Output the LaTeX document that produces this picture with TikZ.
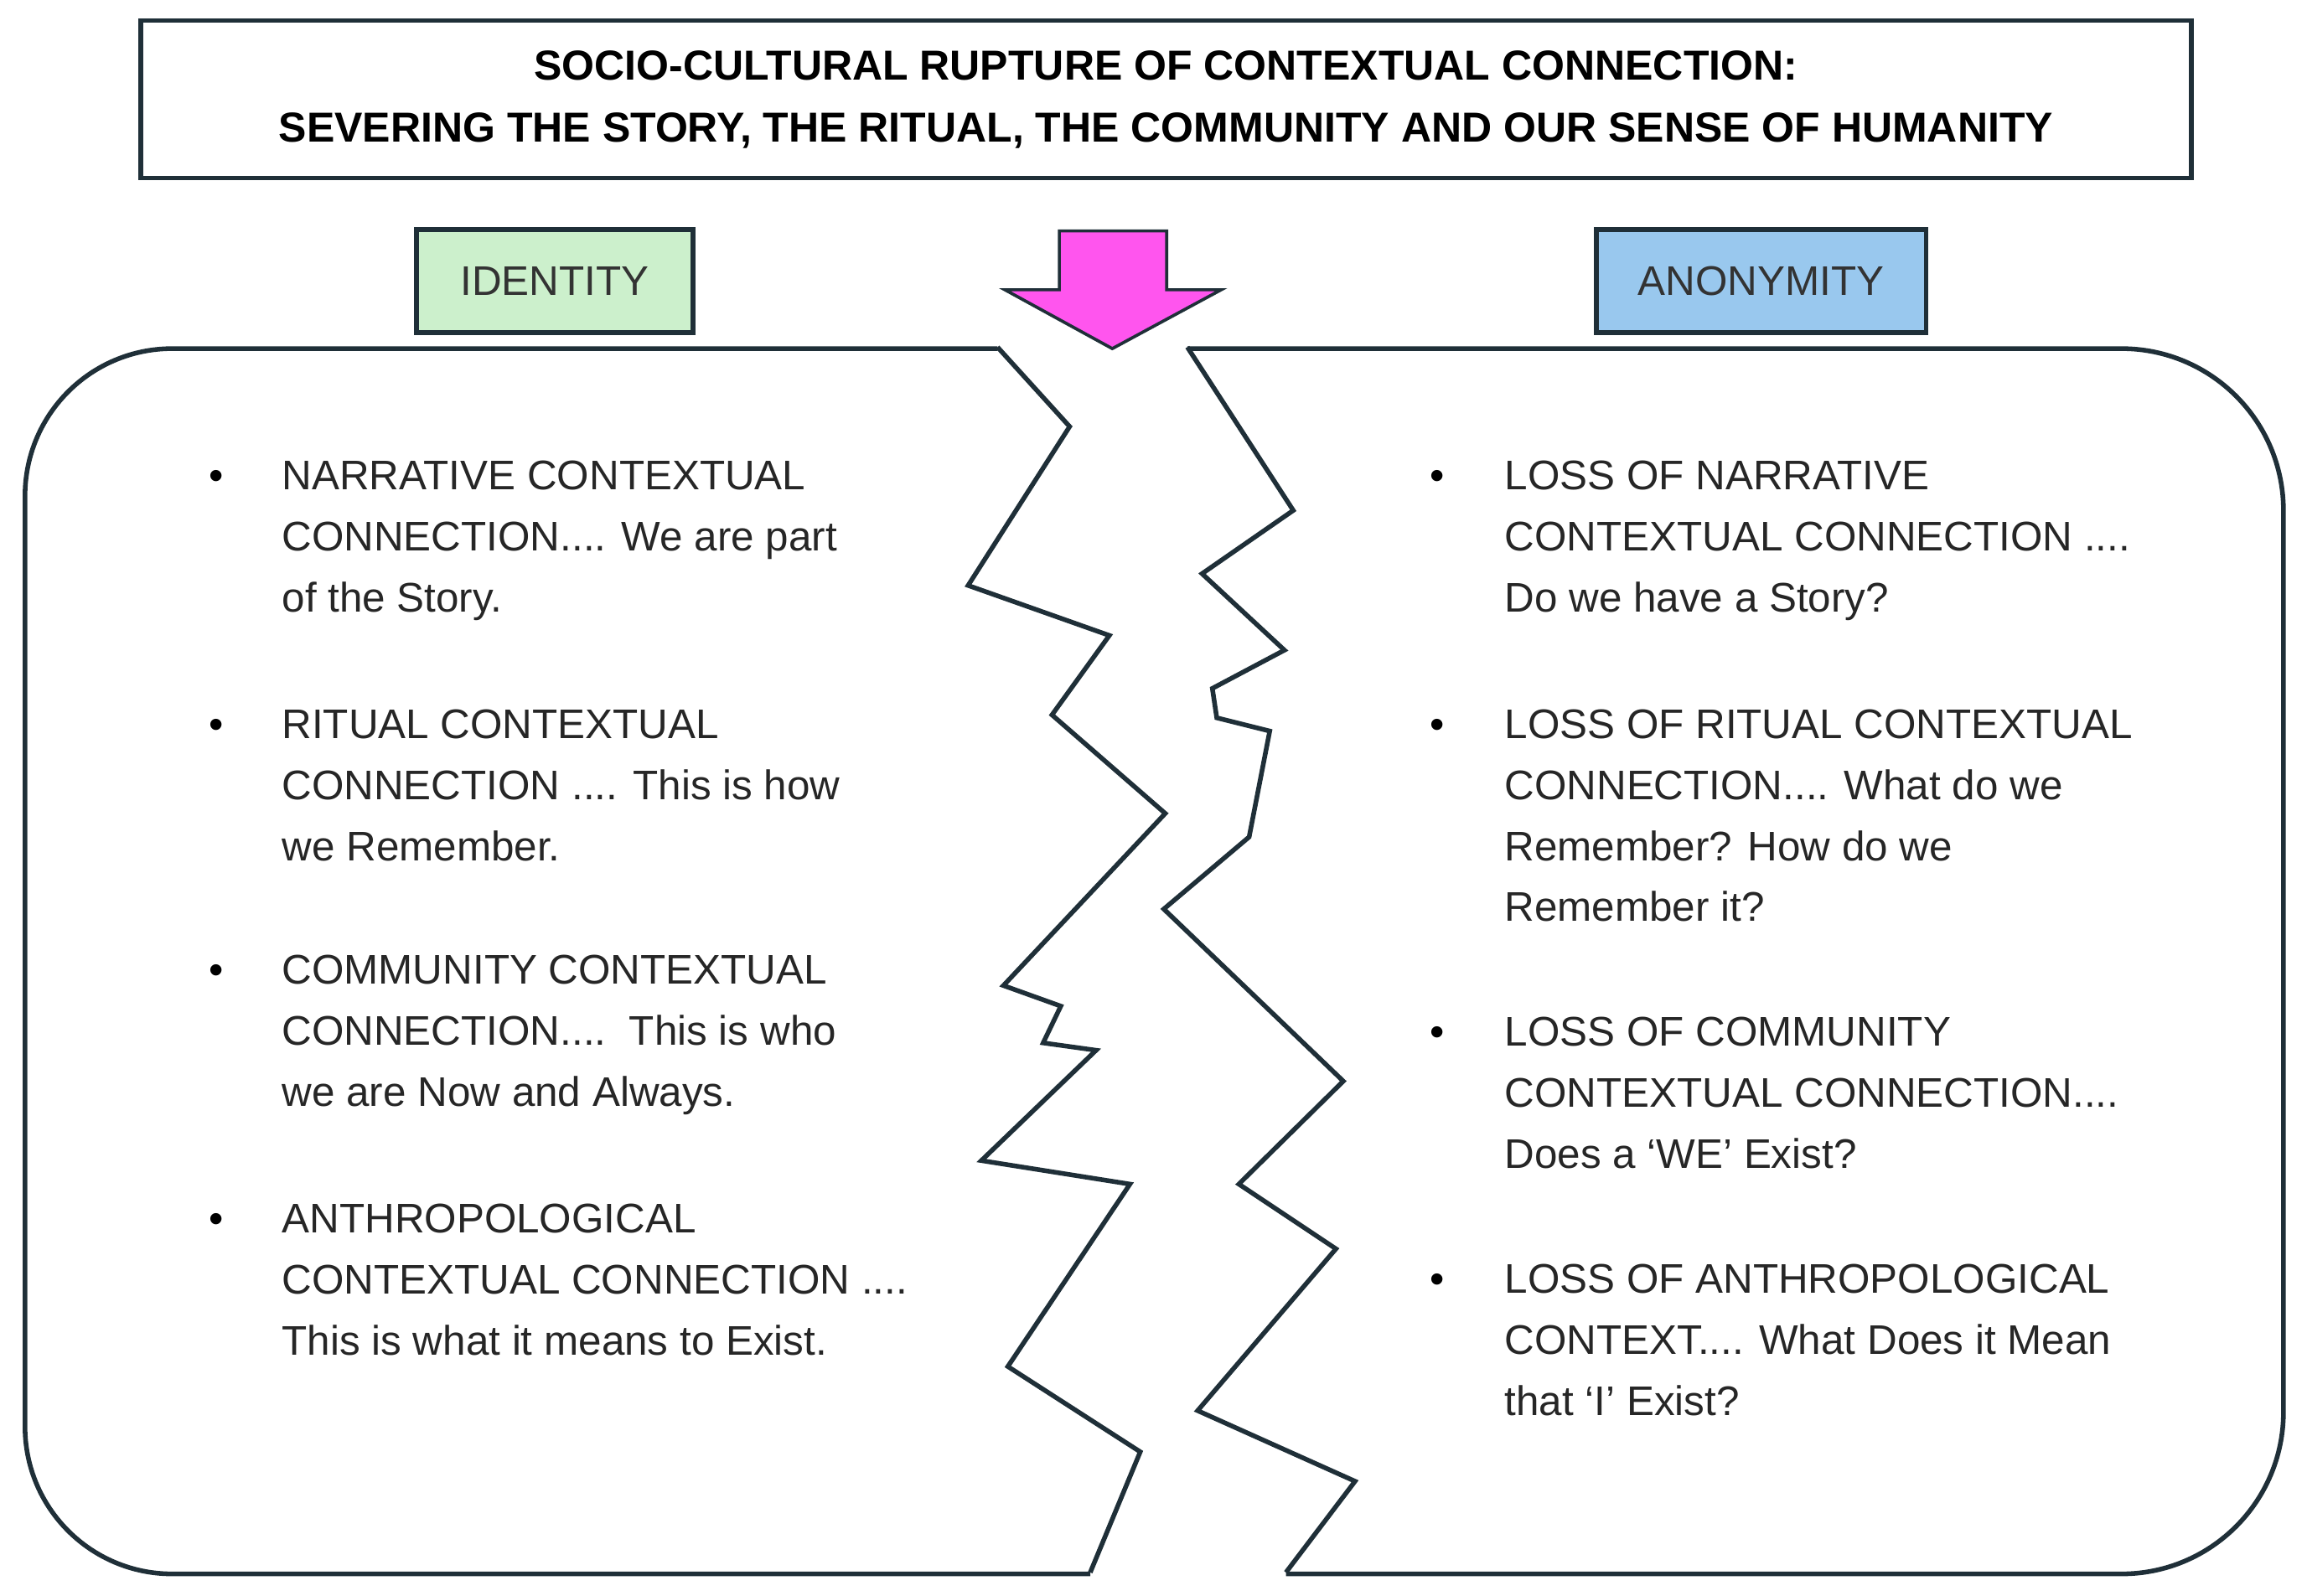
\documentclass[tikz,border=0pt]{standalone}
\usepackage{fontspec}
\setmainfont{Liberation Sans}
\definecolor{idgreen}{HTML}{CCF0CC}
\definecolor{anonblue}{HTML}{99C8EE}
\definecolor{rupture}{HTML}{FF55EE}
\definecolor{edge}{HTML}{1F2F38}
\tikzset{
  item/.style={anchor=base west, align=left, inner sep=0pt, font=\fontsize{8}{11.8}\selectfont, text=black!85},
  dot/.style={anchor=base, inner sep=0pt, font=\fontsize{8}{11.8}\selectfont},
  tag/.style={draw=edge, line width=0.9pt, minimum width=#1, minimum height=0.7cm, font=\fontsize{8}{10}\selectfont, text=black!80},
}
\begin{document}
\begin{tikzpicture}[x=0.01cm,y=-0.01cm]
 \useasboundingbox (0,0) rectangle (1568,1085);

 \node[draw=edge, line width=0.9pt, minimum width=13.93cm, minimum height=1.07cm, align=center,
   font=\bfseries\fontsize{8.1}{12}\selectfont] (title) at (792.5,67.5)
   {SOCIO-CULTURAL RUPTURE OF CONTEXTUAL CONNECTION:\\
    SEVERING THE STORY, THE RITUAL, THE COMMUNITY AND OUR SENSE OF HUMANITY};

 \node[tag=1.88cm, fill=idgreen] (ident) at (377,191) {IDENTITY};
 \node[tag=2.24cm, fill=anonblue] (anon) at (1197,191) {ANONYMITY};

 % the downward arrow
 \filldraw[fill=rupture, draw=edge, line width=0.6pt] (720,157) -- (793,157) -- (793,197) -- (830,197)
   -- (756,237) -- (683,197) -- (720,197) -- cycle;

 % left panel
 \draw[edge, line width=0.9pt, rounded corners=1cm] (678,237) -- (17,237) -- (17,1070) -- (741,1070);
 \draw[edge, line width=0.9pt] (678,236) -- (727,290) -- (658,398) -- (754,432) -- (715,486) -- (792,553)
   -- (682,670) -- (721,684) -- (709,709) -- (745,714) -- (667,789) -- (768,805) -- (685,929)
   -- (775,987) -- (741,1069);

 % right panel
 \draw[edge, line width=0.9pt, rounded corners=1.1cm] (807,237) -- (1552,237) -- (1552,1070) -- (874,1070);
 \draw[edge, line width=0.9pt] (807,236) -- (879,347) -- (817,390) -- (873,442) -- (824,468) -- (827,488)
   -- (863,497) -- (849,569) -- (791,618) -- (913,735) -- (842,805) -- (908,849) -- (814,959)
   -- (921,1007) -- (874,1069);

 % left items (anchored on the last line)
 \foreach \yy in {333,502,669,838} \node[dot] at (147,\yy) {\textbullet};
 \node[item] (l1) at (191,416) {NARRATIVE CONTEXTUAL\\CONNECTION.... We are part\\of the Story.};
 \node[item] (l2) at (191,585) {RITUAL CONTEXTUAL\\CONNECTION .... This is how\\we Remember.};
 \node[item] (l3) at (191,752) {COMMUNITY CONTEXTUAL\\CONNECTION....\ \ This is who\\we are Now and Always.};
 \node[item] (l4) at (191,921) {ANTHROPOLOGICAL\\CONTEXTUAL CONNECTION ....\\This is what it means to Exist.};

 % right items
 \foreach \yy in {333,502,711,879} \node[dot] at (977,\yy) {\textbullet};
 \node[item] (r1) at (1022,416) {LOSS OF NARRATIVE\\CONTEXTUAL CONNECTION ....\\Do we have a Story?};
 \node[item] (r2) at (1022,626.5) {LOSS OF RITUAL CONTEXTUAL\\CONNECTION.... What do we\\Remember? How do we\\Remember it?};
 \node[item] (r3) at (1022,794) {LOSS OF COMMUNITY\\CONTEXTUAL CONNECTION....\\Does a `WE' Exist?};
 \node[item] (r4) at (1022,962) {LOSS OF ANTHROPOLOGICAL\\CONTEXT.... What Does it Mean\\that `I' Exist?};
\end{tikzpicture}
\end{document}
